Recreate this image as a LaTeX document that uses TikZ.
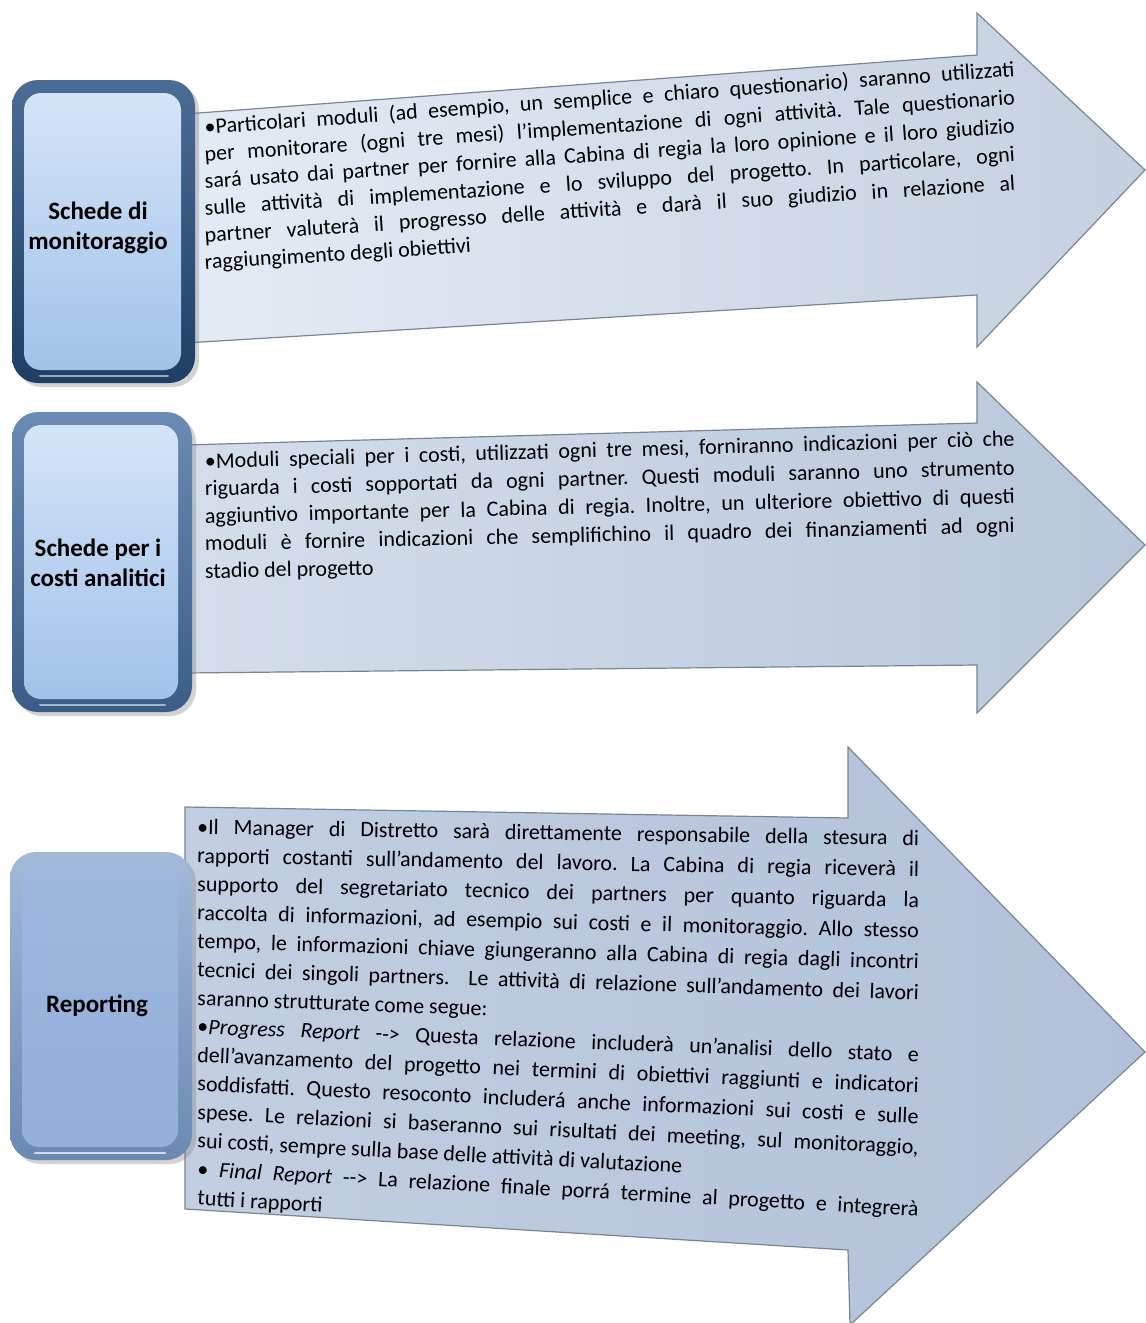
\documentclass[tikz,border=0pt]{standalone}
\usepackage{fontspec}
\setmainfont{Carlito}
\usetikzlibrary{shadows}

% arrow fills
\definecolor{aOneL}{HTML}{E4EBF4}
\definecolor{aOneR}{HTML}{C4D0E1}
\definecolor{aTwoL}{HTML}{D4DEEB}
\definecolor{aTwoR}{HTML}{B8C7DB}
\definecolor{aThrL}{HTML}{C2CFE2}
\definecolor{aThrR}{HTML}{B0C1D9}
\definecolor{aEdge}{HTML}{7A8593}
% side boxes
\definecolor{fOneT}{HTML}{4B6D95}
\definecolor{fOneB}{HTML}{1E3E65}
\definecolor{fTwoT}{HTML}{6A8BB3}
\definecolor{fTwoB}{HTML}{3A5C86}
\definecolor{fThrT}{HTML}{A3B9D8}
\definecolor{fThrB}{HTML}{6A89B3}
\definecolor{iOneT}{HTML}{D3E4F8}
\definecolor{iOneB}{HTML}{A2C2EA}
\definecolor{iThrT}{HTML}{9DB7DF}
\definecolor{iThrB}{HTML}{93AFDA}

\tikzset{
  arrowshape/.style={draw=aEdge, line width=1.2pt, line join=miter},
  boxframe/.style={rounded corners=26pt,
    drop shadow={shadow xshift=4pt, shadow yshift=-4pt, opacity=0.35}},
  boxinner/.style={rounded corners=17pt},
  boxtxt/.style={align=center, inner sep=0pt,
    font=\bfseries\fontsize{25}{30}\selectfont},
  txtline/.style={anchor=base west, inner sep=0pt,
    font=\frenchspacing\fontsize{22}{27}\selectfont},
}

% justified line: x, baseline y, angle, width, text
\newcommand{\jline}[5]{\node[txtline, rotate=#3] at (#1,#2) {\makebox[#4][s]{#5}};}
% last line of a paragraph: x, baseline y, angle, text
\newcommand{\pline}[4]{\node[txtline, rotate=#3] at (#1,#2) {#4};}

\begin{document}
\begin{tikzpicture}[x=1pt, y=-1pt]
\useasboundingbox (0,0) rectangle (1146,1323);
\fill[white] (0,0) rectangle (1146,1323);

% ---------- arrows ----------
\shade[arrowshape, left color=aOneL, right color=aOneR]
  (185,114) -- (977,55) -- (977,13) -- (1145,170) -- (977,347)
  -- (977,295) -- (185,343) -- cycle;
\shade[arrowshape, left color=aTwoL, right color=aTwoR]
  (185,445) -- (977,423) -- (977,382) -- (1145,545) -- (977,713)
  -- (977,665) -- (185,673) -- cycle;
\shade[arrowshape, left color=aThrL, right color=aThrR]
  (185,807) -- (848,818) -- (848,747) -- (1145,1052) -- (850,1325)
  -- (848,1250) -- (185,1209) -- cycle;

% ---------- side boxes ----------
\shade[boxframe, top color=fOneT, bottom color=fOneB] (12,80) rectangle (195,383);
\shade[boxinner, top color=iOneT, bottom color=iOneB] (24,93) rectangle (181,370);
\draw[white, opacity=0.55, line width=2pt, line cap=round] (40,376) -- (168,376);
\node[boxtxt] (monit) at (98,228) {Schede di\\monitoraggio};

\shade[boxframe, top color=fTwoT, bottom color=fTwoB] (12,412) rectangle (192,712);
\shade[boxinner, top color=iOneT, bottom color=iOneB] (24,425) rectangle (178,699);
\draw[white, opacity=0.55, line width=2pt, line cap=round] (40,705) -- (165,705);
\node[boxtxt] (costi) at (98,563) {Schede per i\\costi analitici};

\shade[boxframe, top color=fThrT, bottom color=fThrB] (10,852) rectangle (192,1160);
\shade[boxinner, top color=iThrT, bottom color=iThrB] (22,865) rectangle (178,1147);
\draw[white, opacity=0.7, line width=2.5pt, line cap=round] (35,1153) -- (165,1153);
\node[boxtxt] (report) at (97,1006) {Reporting};

% ---------- text of the first arrow ----------
\jline{205}{134.4}{4.1}{812pt}{•Particolari moduli (ad esempio, un semplice e chiaro questionario) saranno utilizzati}
\jline{205}{161.4}{4.0}{812pt}{per monitorare (ogni tre mesi) l'implementazione di ogni attività. Tale questionario}
\jline{205}{188.4}{3.9}{812pt}{sará usato dai partner per fornire alla Cabina di regia la loro opinione e il loro giudizio}
\jline{205}{215.4}{3.8}{812pt}{sulle attività di implementazione e lo sviluppo del progetto. In particolare, ogni}
\jline{205}{242.4}{3.7}{812pt}{partner valuterà il progresso delle attività e darà il suo giudizio in relazione al}
\pline{205}{269.4}{3.6}{raggiungimento degli obiettivi}

% ---------- text of the second arrow ----------
\jline{205}{468.4}{1.6}{810pt}{•Moduli speciali per i costi, utilizzati ogni tre mesi, forniranno indicazioni per ciò che}
\jline{205}{495.9}{1.5}{810pt}{riguarda i costi sopportati da ogni partner. Questi moduli saranno uno strumento}
\jline{205}{523.4}{1.4}{810pt}{aggiuntivo importante per la Cabina di regia. Inoltre, un ulteriore obiettivo di questi}
\jline{205}{550.9}{1.3}{810pt}{moduli è fornire indicazioni che semplifichino il quadro dei finanziamenti ad ogni}
\pline{205}{578.4}{1.2}{stadio del progetto}

% ---------- text of the third arrow ----------
\jline{197}{834.4}{-0.88}{722pt}{•Il Manager di Distretto sarà direttamente responsabile della stesura di}
\jline{197}{862.9}{-1.07}{722pt}{rapporti costanti sull'andamento del lavoro. La Cabina di regia riceverà il}
\jline{197}{891.4}{-1.26}{722pt}{supporto del segretariato tecnico dei partners per quanto riguarda la}
\jline{197}{919.9}{-1.45}{722pt}{raccolta di informazioni, ad esempio sui costi e il monitoraggio. Allo stesso}
\jline{197}{948.4}{-1.64}{722pt}{tempo, le informazioni chiave giungeranno alla Cabina di regia dagli incontri}
\jline{197}{976.9}{-1.83}{722pt}{tecnici dei singoli partners.\ \ Le attività di relazione sull'andamento dei lavori}
\pline{197}{1005.4}{-2.02}{saranno strutturate come segue:}
\jline{197}{1033.9}{-2.21}{722pt}{•\textit{Progress Report} -{}-{}> Questa relazione includerà un'analisi dello stato e}
\jline{197}{1062.4}{-2.40}{722pt}{dell'avanzamento del progetto nei termini di obiettivi raggiunti e indicatori}
\jline{197}{1090.9}{-2.59}{722pt}{soddisfatti. Questo resoconto includerá anche informazioni sui costi e sulle}
\jline{197}{1119.4}{-2.78}{722pt}{spese. Le relazioni si baseranno sui risultati dei meeting, sul monitoraggio,}
\pline{197}{1147.9}{-2.97}{sui costi, sempre sulla base delle attività di valutazione}
\jline{197}{1176.4}{-3.16}{722pt}{• \textit{Final Report} -{}-{}> La relazione finale porrá termine al progetto e integrerà}
\pline{197}{1204.9}{-3.35}{tutti i rapporti}
\end{tikzpicture}
\end{document}
